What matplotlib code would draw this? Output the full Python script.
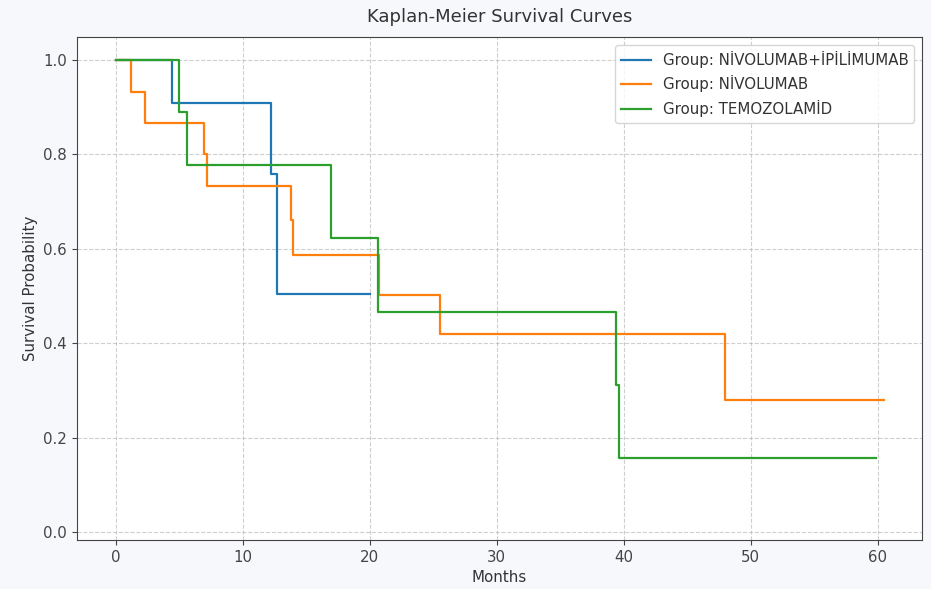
import matplotlib
matplotlib.use("Agg")
import matplotlib.pyplot as plt

# Data
groups = ["Group: NİVOLUMAB+İPİLİMUMAB", "Group: NİVOLUMAB", "Group: TEMOZOLAMİD"]

t_combo = [0.0, 4.4, 12.2, 12.7, 20.0]
s_combo = [1.0, 0.909, 0.758, 0.505, 0.505]

t_nivo = [0.0, 1.15, 2.28, 6.93, 7.19, 13.8, 13.95, 20.7, 25.5, 48.0, 60.5]
s_nivo = [1.0, 0.933, 0.867, 0.800, 0.733, 0.660, 0.587, 0.503, 0.420, 0.280, 0.280]

t_temo = [0.0, 4.96, 5.57, 16.9, 20.6, 39.4, 39.6, 59.9]
s_temo = [1.0, 0.889, 0.778, 0.622, 0.467, 0.311, 0.156, 0.156]

colors = ["#1f77b4", "#ff7f0e", "#2ca02c"]

plt.rcParams["font.size"] = 10.8
plt.rcParams["text.color"] = "#333333"
plt.rcParams["axes.labelcolor"] = "#333333"
plt.rcParams["xtick.color"] = "#444444"
plt.rcParams["ytick.color"] = "#444444"
plt.rcParams["axes.edgecolor"] = "#444444"

fig = plt.figure(figsize=(9.31, 5.89), dpi=100, facecolor="#f6f8fb")
ax = fig.add_axes([0.0824, 0.0832, 0.9903 - 0.0824, 0.9367 - 0.0832])
ax.set_facecolor("white")

for t, s, lab, c in zip([t_combo, t_nivo, t_temo], [s_combo, s_nivo, s_temo], groups, colors):
    ax.plot(t, s, drawstyle="steps-post", color=c, linewidth=1.6, label=lab)

ax.set_xlim(-3.1, 63.5)
ax.set_ylim(-0.017, 1.048)
ax.set_xticks([0, 10, 20, 30, 40, 50, 60])
ax.set_yticks([0.0, 0.2, 0.4, 0.6, 0.8, 1.0])
ax.grid(True, linestyle="--", color="#b0b0b0", alpha=0.6)
ax.set_title("Kaplan-Meier Survival Curves", fontsize=13, pad=11)
ax.set_xlabel("Months", labelpad=4)
ax.set_ylabel("Survival Probability")
ax.legend(loc="upper right")

fig.savefig("out.png", dpi=100, facecolor=fig.get_facecolor())
